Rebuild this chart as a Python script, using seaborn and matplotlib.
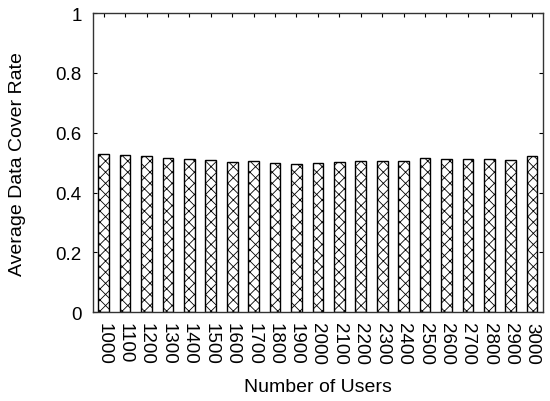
import matplotlib
matplotlib.use("Agg")
import matplotlib.pyplot as plt
import seaborn as sns
import pandas as pd

users = ["1000", "1100", "1200", "1300", "1400", "1500", "1600", "1700", "1800", "1900", "2000",
         "2100", "2200", "2300", "2400", "2500", "2600", "2700", "2800", "2900", "3000"]
cover_rate = [0.528, 0.526, 0.521, 0.514, 0.511, 0.508, 0.503, 0.504, 0.498, 0.495, 0.498,
              0.501, 0.505, 0.507, 0.506, 0.514, 0.513, 0.512, 0.511, 0.510, 0.521]
y_ticks = [0, 0.2, 0.4, 0.6, 0.8, 1]
y_tick_labels = ["0", "0.2", "0.4", "0.6", "0.8", "1"]

sns.set_style("white", {"text.color": "black", "axes.labelcolor": "black",
                        "xtick.color": "black", "ytick.color": "black"})
plt.rcParams['font.family'] = ['Liberation Sans', 'DejaVu Sans']
plt.rcParams['hatch.linewidth'] = 0.6

df = pd.DataFrame({"users": users, "rate": cover_rate})

fig = plt.figure(figsize=(5.5, 4.02), dpi=100)
ax = fig.add_axes([0.169, 0.221, 0.818, 0.744])
sns.barplot(data=df, x="users", y="rate", color="white", edgecolor="black",
            linewidth=1.0, width=0.5, hatch="xxx", ax=ax)

ax.set_xlim(-0.5, 20.5)
ax.set_ylim(0, 1)
ax.set_yticks(y_ticks)
ax.set_yticklabels(y_tick_labels)
ax.tick_params(axis="x", rotation=270, labelsize=13.5, direction="in", length=3,
               top=True, bottom=True, width=0.8, pad=7)
ax.tick_params(axis="y", labelsize=13.5, direction="in", length=3,
               left=True, right=True, width=0.8, pad=8)
for lbl in ax.get_xticklabels():
    lbl.set_va("top")
    lbl.set_ha("center")
for s in ax.spines.values():
    s.set_color("#333333")
    s.set_linewidth(1.0)

ax.set_xlabel("Number of Users", fontsize=14, labelpad=10)
ax.set_ylabel("Average Data Cover Rate", fontsize=14, labelpad=21)

fig.savefig("out.png", dpi=100)
